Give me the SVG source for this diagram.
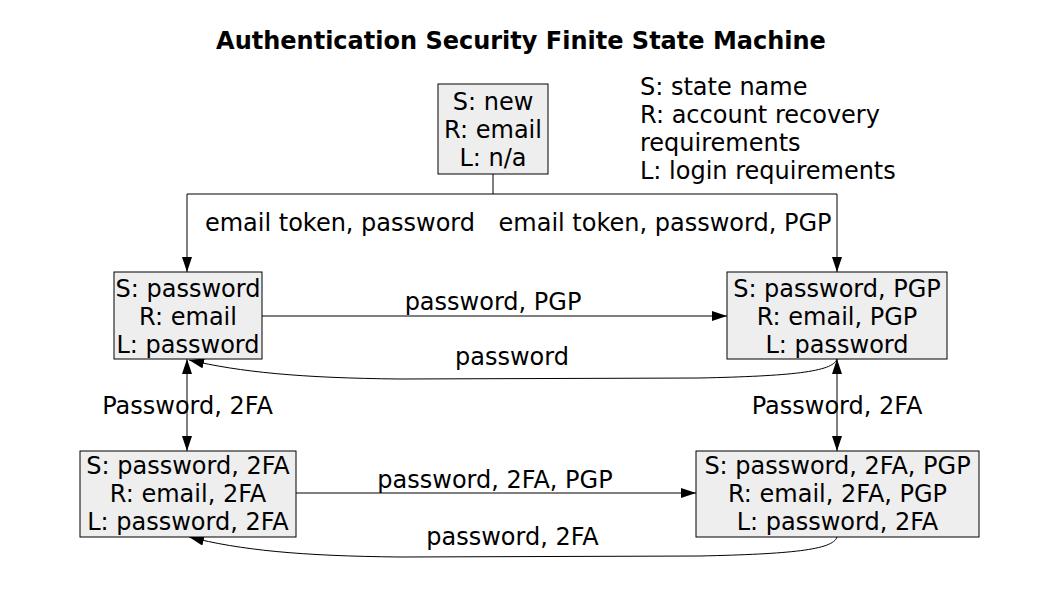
<svg xmlns="http://www.w3.org/2000/svg" width="1058" height="595" viewBox="0 0 1058 595">
<style>
.bg{fill:#ffffff}
.node rect{fill:#eeeeee;stroke:#000000;stroke-width:1}
text{font-family:"DejaVu Sans","Liberation Sans",sans-serif;font-size:24px;fill:#000000}
.node text,.lbl{text-anchor:middle}
.title{font-size:24px;font-weight:bold;text-anchor:middle}
.edge{fill:none;stroke:#000000;stroke-width:1}
</style>
<defs>
<marker id="ah" markerUnits="userSpaceOnUse" markerWidth="16" markerHeight="11" refX="15" refY="5" orient="auto-start-reverse" viewBox="0 0 16 11">
<path d="M0,0 L15,5 L0,10 z" fill="#000000"/>
</marker>
</defs>
<rect class="bg" x="0" y="0" width="1058" height="595"/>
<text class="title" x="521" y="49">Authentication Security Finite State Machine</text>
<g id="legend">
<text x="640" y="95">S: state name</text>
<text x="640" y="123">R: account recovery</text>
<text x="640" y="151">requirements</text>
<text x="640" y="179">L: login requirements</text>
</g>
<g id="connectors">
<path class="edge" d="M493,174 V194 H187 V272" marker-end="url(#ah)"/>
<path class="edge" d="M493,194 H837 V272" marker-end="url(#ah)"/>
<path class="edge" d="M262,316 H727" marker-end="url(#ah)"/>
<path class="edge" d="M837,359 C833,372 790,376 700,378 L400,379 C300,378 240,372 189,360" marker-end="url(#ah)"/>
<path class="edge" d="M187,359 V451" marker-start="url(#ah)" marker-end="url(#ah)"/>
<path class="edge" d="M837,359 V451" marker-start="url(#ah)" marker-end="url(#ah)"/>
<path class="edge" d="M296,493 H696" marker-end="url(#ah)"/>
<path class="edge" d="M837,537 C833,550 790,554 700,556 L400,557 C300,556 240,550 189,537" marker-end="url(#ah)"/>
<text class="lbl" x="340" y="230.5">email token, password</text>
<text class="lbl" x="665" y="230.5">email token, password, PGP</text>
<text class="lbl" x="493" y="309.5">password, PGP</text>
<text class="lbl" x="512" y="364.5">password</text>
<text class="lbl" x="187.5" y="413.5">Password, 2FA</text>
<text class="lbl" x="837" y="413.5">Password, 2FA</text>
<text class="lbl" x="495" y="487.5">password, 2FA, PGP</text>
<text class="lbl" x="512.5" y="544.5">password, 2FA</text>
</g>
<g id="n_new" class="node">
<rect x="438" y="84" width="110" height="90"/>
<text x="493" y="109.5">S: new</text>
<text x="493" y="137.5">R: email</text>
<text x="493" y="165.5">L: n/a</text>
</g>
<g id="n_password" class="node">
<rect x="114" y="272" width="148" height="87"/>
<text x="188" y="296.5">S: password</text>
<text x="188" y="324.5">R: email</text>
<text x="188" y="352.5">L: password</text>
</g>
<g id="n_password_pgp" class="node">
<rect x="727" y="272" width="220" height="87"/>
<text x="837" y="296.5">S: password, PGP</text>
<text x="837" y="324.5">R: email, PGP</text>
<text x="837" y="352.5">L: password</text>
</g>
<g id="n_password_2fa" class="node">
<rect x="80" y="451" width="216" height="86"/>
<text x="188" y="473.5">S: password, 2FA</text>
<text x="188" y="501.5">R: email, 2FA</text>
<text x="188" y="529.5">L: password, 2FA</text>
</g>
<g id="n_password_2fa_pgp" class="node">
<rect x="696" y="451" width="283" height="86"/>
<text x="837.5" y="473.5">S: password, 2FA, PGP</text>
<text x="837.5" y="501.5">R: email, 2FA, PGP</text>
<text x="837.5" y="529.5">L: password, 2FA</text>
</g>
</svg>
